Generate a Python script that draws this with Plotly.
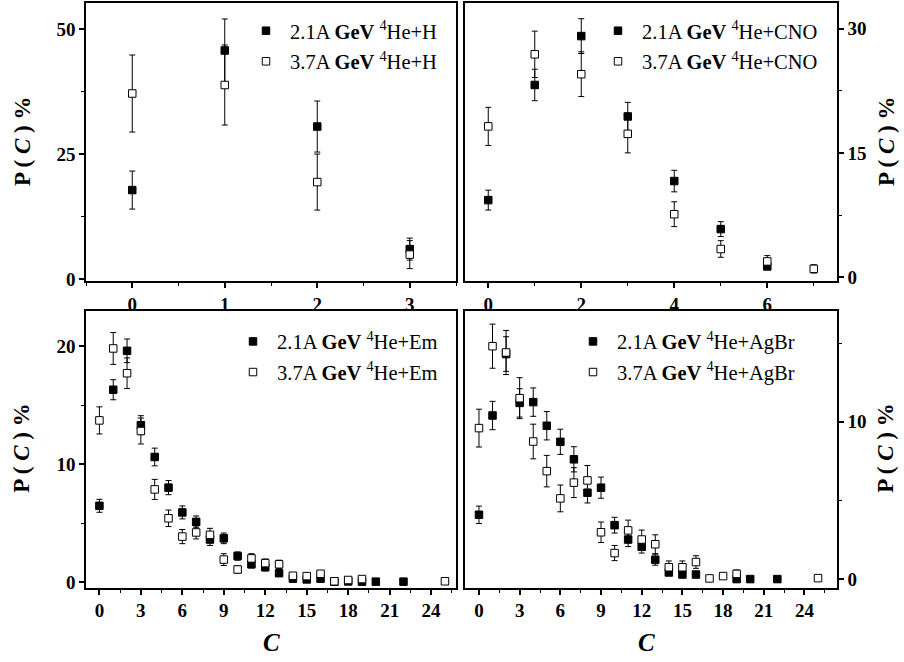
import plotly.graph_objects as go

# ---- data: top-left 4He+H ----
h_c = [0, 1, 2, 3]
h_21 = [17.8, 45.7, 30.5, 6.0]
h_21_err = [3.8, 6.3, 5.1, 2.2]
h_37 = [37.1, 38.8, 19.4, 4.9]
h_37_err = [7.7, 8.0, 5.6, 2.8]

# ---- top-right 4He+CNO ----
cno_c21 = [0, 1, 2, 3, 4, 5, 6]
cno_21 = [9.3, 23.2, 29.1, 19.4, 11.6, 5.8, 1.3]
cno_21_err = [1.2, 1.9, 2.1, 1.7, 1.3, 0.9, 0.4]
cno_c37 = [0, 1, 2, 3, 4, 5, 6, 7]
cno_37 = [18.2, 26.9, 24.5, 17.3, 7.6, 3.4, 1.9, 1.0]
cno_37_err = [2.3, 2.8, 2.7, 2.3, 1.5, 1.0, 0.7, 0.5]

# ---- bottom-left 4He+Em ----
em_c21 = [0, 1, 2, 3, 4, 5, 6, 7, 8, 9, 10, 11, 12, 13, 14, 15, 16, 17, 18, 19, 20, 22]
em_21 = [6.46, 16.3, 19.6, 13.3, 10.6, 8.0, 5.9, 5.1, 3.6, 3.7, 2.2, 1.5, 1.25, 0.75, 0.28, 0.22, 0.28, 0.03, 0.05, 0.03, 0.03, 0.03]
em_21_err = [0.55, 0.85, 1.0, 0.8, 0.75, 0.6, 0.55, 0.5, 0.5, 0.45, 0.35, 0.3, 0.3, 0.25, 0.15, 0.12, 0.15, 0.03, 0.05, 0.03, 0.03, 0.03]
em_c37 = [0, 1, 2, 3, 4, 5, 6, 7, 8, 9, 10, 11, 12, 13, 14, 15, 16, 17, 18, 19, 25]
em_37 = [13.7, 19.8, 17.7, 12.8, 7.85, 5.4, 3.85, 4.2, 4.0, 1.9, 1.06, 2.0, 1.6, 1.5, 0.53, 0.5, 0.7, 0.06, 0.17, 0.25, 0.06]
em_37_err = [1.15, 1.35, 1.3, 1.1, 0.85, 0.7, 0.6, 0.55, 0.55, 0.5, 0.3, 0.4, 0.35, 0.35, 0.15, 0.15, 0.2, 0.05, 0.1, 0.15, 0.05]

# ---- bottom-right 4He+AgBr ----
ag_c21 = [0, 1, 2, 3, 4, 5, 6, 7, 8, 9, 10, 11, 12, 13, 14, 15, 16, 19, 20, 22]
ag_21 = [4.1, 10.4, 14.3, 11.2, 11.25, 9.75, 8.73, 7.62, 5.5, 5.82, 3.44, 2.53, 2.07, 1.25, 0.44, 0.31, 0.31, 0.02, 0.02, 0.02]
ag_21_err = [0.55, 0.9, 1.1, 0.9, 0.9, 0.9, 0.8, 0.8, 0.65, 0.67, 0.5, 0.45, 0.4, 0.35, 0.2, 0.15, 0.15, 0.02, 0.02, 0.02]
ag_c37 = [0, 1, 2, 3, 4, 5, 6, 7, 8, 9, 10, 11, 12, 13, 14, 15, 16, 17, 18, 19, 25]
ag_37 = [9.6, 14.8, 14.4, 11.5, 8.75, 6.87, 5.14, 6.14, 6.28, 2.99, 1.67, 3.11, 2.53, 2.23, 0.77, 0.77, 1.1, 0.06, 0.21, 0.35, 0.08]
ag_37_err = [1.2, 1.4, 1.4, 1.3, 1.1, 1.0, 0.85, 0.95, 0.95, 0.65, 0.48, 0.65, 0.6, 0.6, 0.4, 0.4, 0.4, 0.05, 0.1, 0.25, 0.05]

FONT = "Liberation Serif, Times New Roman, serif"
W, H = 904, 662

fig = go.Figure()

def add_pair(xa, ya, leg, c21, v21, e21, c37, v37, e37, target):
    err = dict(type="data", visible=True, thickness=1, width=3, color="black")
    fig.add_trace(go.Scatter(
        x=c21, y=v21, mode="markers", xaxis=xa, yaxis=ya, legend=leg,
        legendgroup=leg + "a",
        name="2.1A <b>GeV</b> <sup>4</sup>He+" + target,
        marker=dict(symbol="square", size=7.5, color="black", line=dict(color="black", width=1)),
        error_y=dict(array=e21, **err)))
    fig.add_trace(go.Scatter(
        x=c37, y=v37, mode="markers", xaxis=xa, yaxis=ya, legend=leg,
        legendgroup=leg + "b",
        name="3.7A <b>GeV</b> <sup>4</sup>He+" + target,
        marker=dict(symbol="square", size=7.5, color="white", line=dict(color="black", width=1)),
        error_y=dict(array=e37, **err)))

add_pair("x", "y", "legend", h_c, h_21, h_21_err, h_c, h_37, h_37_err, "H")
add_pair("x2", "y2", "legend2", cno_c21, cno_21, cno_21_err, cno_c37, cno_37, cno_37_err, "CNO")
add_pair("x3", "y3", "legend3", em_c21, em_21, em_21_err, em_c37, em_37, em_37_err, "Em")
add_pair("x4", "y4", "legend4", ag_c21, ag_21, ag_21_err, ag_c37, ag_37, ag_37_err, "AgBr")

L = [86 / W, 456 / W]
R = [465 / W, 837 / W]
T = [1 - 285 / H, 1 - 3 / H]
B = [1 - 596 / H, 1 - 315 / H]

tickfont = dict(family=FONT, size=19, color="black", weight="bold")

def axis(domain, anchor, rng, dtick, mdtick, side=None):
    d = dict(domain=domain, anchor=anchor, range=rng, dtick=dtick, tick0=0,
             showline=True, mirror=True, linecolor="black", linewidth=1.5,
             ticks="outside", ticklen=5, tickwidth=1.5, tickcolor="black",
             showgrid=False, zeroline=False, tickfont=tickfont,
             minor=dict(dtick=mdtick, tick0=0, ticks="outside", ticklen=3, tickwidth=1.2, tickcolor="black", showgrid=False))
    if side:
        d["side"] = side
    return d

fig.update_layout(
    width=W, height=H, margin=dict(l=0, r=0, t=0, b=0),
    paper_bgcolor="white", plot_bgcolor="white",
    font=dict(family=FONT, color="black"),
    xaxis=axis(L, "y", [-0.5, 3.5], 1, 0.5),
    yaxis=axis(T, "x", [-0.4, 55.2], 25, 12.5),
    xaxis2=axis(R, "y2", [-0.5, 7.5], 2, 1),
    yaxis2=axis(T, "x2", [-0.48, 33.1], 15, 7.5, side="right"),
    xaxis3=axis(L, "y3", [-0.97, 25.8], 3, 1.5),
    yaxis3=axis(B, "x3", [-0.5, 23.0], 10, 5),
    xaxis4=axis(R, "y4", [-1.03, 26.4], 3, 1.5),
    yaxis4=axis(B, "x4", [-0.54, 17.05], 10, 5, side="right"),
)

legfont = dict(family=FONT, size=20.5, color="black")
def leg(x, y):
    return dict(x=x / W, y=1 - y / H, xanchor="left", yanchor="top", bgcolor="rgba(0,0,0,0)",
                font=legfont, tracegroupgap=1, itemsizing="trace", itemwidth=38)

fig.update_layout(
    legend=leg(242, 11),
    legend2=leg(594, 11),
    legend3=leg(229, 326),
    legend4=leg(569, 326),
)

title = "<b>P ( <i>C</i> ) %</b>"
ann = []
for (x, y) in [(22, 144), (22, 455), (886, 144), (886, 455)]:
    ann.append(dict(text=title, x=x / W, y=1 - y / H, xref="paper", yref="paper",
                    xanchor="center", yanchor="middle",
                    showarrow=False, textangle=-90, font=dict(family=FONT, size=23, color="black")))
for (x, y) in [(271, 651), (646, 651)]:
    ann.append(dict(text="<b><i>C</i></b>", x=x / W, y=1 - y / H, xref="paper", yref="paper",
                    xanchor="center", yanchor="middle",
                    showarrow=False, font=dict(family=FONT, size=25, color="black")))
fig.update_layout(annotations=ann)

fig.write_html("out.html")
